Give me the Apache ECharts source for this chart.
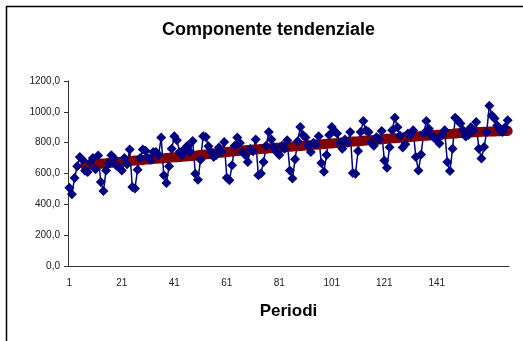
<!DOCTYPE html>
<html>
<head>
<meta charset="utf-8">
<script src="https://cdn.jsdelivr.net/npm/echarts@6/dist/echarts.min.js"></script>
<style>
  html, body { margin: 0; padding: 0; background: #fff; }
  #chart { width: 523px; height: 341px; }
</style>
</head>
<body>
<div id="chart"></div>
<script>
// periods 1..168 (monthly observations)
const periods = Array.from({ length: 168 }, (_, i) => String(i + 1));
const tickLabels = ['1', '21', '41', '61', '81', '101', '121', '141'];
const yTicks = [0, 200, 400, 600, 800, 1000, 1200];

// observed series (blue diamonds), one row per year
const observed = [
  508, 465, 571, 647, 707, 690, 618, 610, 672, 700, 628, 716,
  545, 486, 620, 665, 718, 700, 650, 640, 620, 700, 660, 755,
  512, 502, 625, 700, 755, 748, 700, 690, 740, 740, 720, 833,
  588, 538, 647, 760, 841, 815, 740, 720, 761, 780, 740, 811,
  599, 560, 690, 841, 837, 776, 740, 707, 720, 768, 740, 805,
  573, 556, 653, 780, 833, 798, 740, 720, 675, 760, 745, 820,
  588, 600, 675, 780, 869, 820, 770, 740, 720, 780, 760, 815,
  620, 567, 692, 810, 901, 850, 833, 780, 740, 800, 790, 841,
  668, 612, 720, 850, 901, 875, 860, 800, 760, 820, 800, 869,
  603, 599, 746, 870, 940, 880, 869, 800, 780, 835, 820, 876,
  685, 638, 770, 880, 962, 900, 845, 768, 790, 860, 850, 880,
  707, 620, 724, 860, 940, 890, 850, 830, 820, 794, 850, 880,
  675, 616, 760, 962, 945, 925, 880, 840, 850, 900, 880, 934,
  761, 697, 772, 869, 1040, 977, 956, 912, 880, 869, 900, 945
];

// trend component (dark red), starts at period 7
const trend = [
  null, null, null, null, null, null,
  653, 655, 656, 658, 660, 661, 663, 665, 666, 668, 670, 671,
  673, 674, 676, 677, 679, 681, 682, 684, 685, 687, 688, 690,
  691, 692, 694, 695, 697, 698, 699, 701, 702, 703, 705, 706,
  707, 709, 710, 711, 713, 714, 716, 718, 720, 722, 724, 726,
  728, 730, 732, 734, 735, 737, 739, 741, 742, 744, 746, 748,
  749, 751, 752, 753, 755, 756, 757, 759, 760, 761, 763, 764,
  765, 767, 768, 769, 771, 772, 773, 775, 776, 777, 779, 780,
  781, 783, 784, 786, 787, 788, 790, 791, 793, 794, 795, 797,
  798, 800, 801, 802, 804, 805, 807, 808, 809, 811, 812, 814,
  815, 816, 818, 819, 821, 822, 823, 825, 826, 828, 829, 830,
  832, 833, 835, 836, 837, 839, 840, 841, 843, 844, 845, 847,
  848, 849, 851, 852, 853, 855, 856, 857, 858, 860, 861, 862,
  863, 864, 865, 866, 867, 868, 869, 870, 871, 871, 872, 873,
  873, 874, 874, 875, 875, 876
];

const font = "'Liberation Sans', Arial, sans-serif";
const chart = echarts.init(document.getElementById('chart'));

chart.setOption({
  backgroundColor: '#fff',
  animation: false,
  title: {
    text: 'Componente tendenziale',
    left: 157,
    top: 16,
    textStyle: { fontFamily: font, fontSize: 18, fontWeight: 'bold', color: '#000' }
  },
  graphic: [{
    type: 'rect',
    shape: { x: 6.5, y: 6.5, width: 700, height: 500 },
    style: { fill: 'none', stroke: '#000', lineWidth: 1.5 },
    silent: true
  }],
  grid: { left: 68, right: 14, top: 81, bottom: 75 },
  xAxis: {
    type: 'category',
    data: periods,
    boundaryGap: true,
    name: 'Periodi',
    nameLocation: 'middle',
    nameGap: 37,
    nameTextStyle: { fontFamily: font, fontSize: 17, fontWeight: 'bold', color: '#000' },
    axisLine: { lineStyle: { color: '#333', width: 1 } },
    axisTick: { interval: 19, length: 3, lineStyle: { color: '#333' } },
    axisLabel: {
      interval: (idx, val) => tickLabels.includes(val),
      margin: 12,
      fontFamily: font, fontSize: 10, color: '#222'
    },
    splitLine: { show: false }
  },
  yAxis: {
    type: 'value',
    min: yTicks[0],
    max: yTicks[yTicks.length - 1],
    interval: 200,
    axisLine: { show: true, lineStyle: { color: '#333', width: 1 } },
    axisTick: { show: true, length: 4, lineStyle: { color: '#333' } },
    axisLabel: {
      margin: 8,
      fontFamily: font, fontSize: 10, color: '#222',
      formatter: v => v.toFixed(1).replace('.', ',')
    },
    splitLine: { show: false }
  },
  series: [
    {
      name: 'Serie',
      type: 'line',
      data: observed,
      symbol: 'diamond',
      symbolSize: 10,
      showAllSymbol: true,
      itemStyle: { color: '#000080' },
      lineStyle: { color: '#000080', width: 1.5 }
    },
    {
      name: 'Trend',
      type: 'line',
      data: trend,
      symbol: 'none',
      lineStyle: { color: '#800000', width: 10, cap: 'round', join: 'round' }
    }
  ]
});
</script>
</body>
</html>
